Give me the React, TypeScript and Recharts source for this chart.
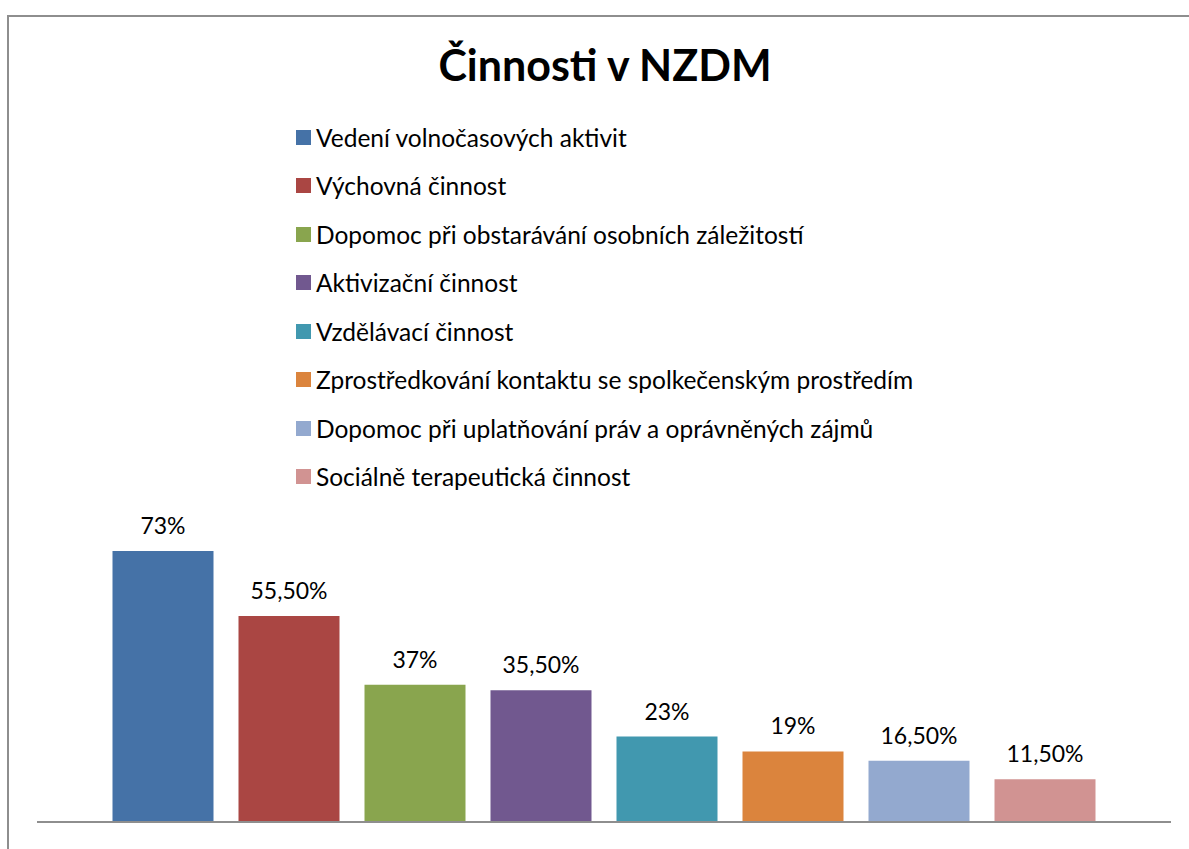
import { Bar, BarChart, LabelList, Legend, XAxis, YAxis } from 'recharts';

const title = 'Činnosti v NZDM';

const activities = [
  'Vedení volnočasových aktivit',
  'Výchovná činnost',
  'Dopomoc při obstarávání osobních záležitostí',
  'Aktivizační činnost',
  'Vzdělávací činnost',
  'Zprostředkování kontaktu se spolkečenským prostředím',
  'Dopomoc při uplatňování práv a oprávněných zájmů',
  'Sociálně terapeutická činnost',
];

const shares = [73, 55.5, 37, 35.5, 23, 19, 16.5, 11.5];

const colors = ['#4572A7', '#AA4643', '#89A54E', '#71588F', '#4198AF', '#DB843D', '#93A9CF', '#D19392'];

const FONT = 'Lato, "Open Sans", sans-serif';

// Excel chart: one category, each activity is its own series
const row: Record<string, string | number> = { name: '' };
activities.forEach((a, i) => {
  row[`s${i}`] = shares[i];
});
const data = [row];

const fmtPct = (v: unknown) => {
  const n = Number(v);
  return Number.isInteger(n) ? `${n}%` : `${n.toFixed(2).replace('.', ',')}%`;
};

function LegendList({ payload }: { payload?: { value: string; color: string }[] }) {
  // keep series order (legend sorts by name otherwise)
  const items = [...(payload ?? [])].sort(
    (a, b) => activities.indexOf(a.value) - activities.indexOf(b.value),
  );
  return (
    <div style={{ fontFamily: FONT, fontSize: 24.5, color: '#000' }}>
      {items.map((p) => (
        <div key={p.value} style={{ display: 'flex', alignItems: 'center', height: 48.5 }}>
          <span style={{ width: 15, height: 15, background: p.color, marginRight: 5, flex: 'none' }} />
          <span style={{ whiteSpace: 'nowrap' }}>{p.value}</span>
        </div>
      ))}
    </div>
  );
}

export default function App() {
  return (
    <div style={{ position: 'absolute', left: 0, top: 0, width: 1189, height: 849, overflow: 'hidden', background: '#fff' }}>
      <style>{'body{margin:0;overflow:hidden}'}</style>
      <div
        style={{
          position: 'absolute',
          left: 7,
          top: 15,
          width: 1300,
          height: 900,
          borderLeft: '2px solid #8e8e8e',
          borderTop: '2px solid #8e8e8e',
        }}
      />
      <div
        style={{
          position: 'absolute',
          left: 405,
          width: 400,
          top: 40,
          textAlign: 'center',
          fontFamily: FONT,
          fontWeight: 700,
          fontSize: 43,
          lineHeight: '50px',
          color: '#000',
        }}
      >
        {title}
      </div>
      <div style={{ position: 'absolute', left: 0, top: 0 }}>
        <BarChart
          width={1189}
          height={849}
          data={data}
          margin={{ top: 525, right: 18, bottom: 26, left: 37 }}
          barCategoryGap={75.5}
          barGap={25}
        >
          <XAxis
            dataKey="name"
            height={1}
            tick={false}
            tickLine={false}
            axisLine={{ stroke: '#8e8e8e', strokeWidth: 2 }}
          />
          <YAxis hide domain={[0, 80]} />
          <Legend
            layout="vertical"
            align="center"
            verticalAlign="middle"
            content={(props: any) => <LegendList payload={props.payload} />}
            wrapperStyle={{ position: 'absolute', left: 296, top: 113, width: 800 }}
          />
          {activities.map((a, i) => (
            <Bar key={a} dataKey={`s${i}`} name={a} fill={colors[i]} isAnimationActive={false}>
              <LabelList
                dataKey={`s${i}`}
                position="top"
                offset={17}
                formatter={fmtPct}
                style={{ fontFamily: FONT, fontSize: 23, fill: '#000' }}
              />
            </Bar>
          ))}
        </BarChart>
      </div>
    </div>
  );
}
